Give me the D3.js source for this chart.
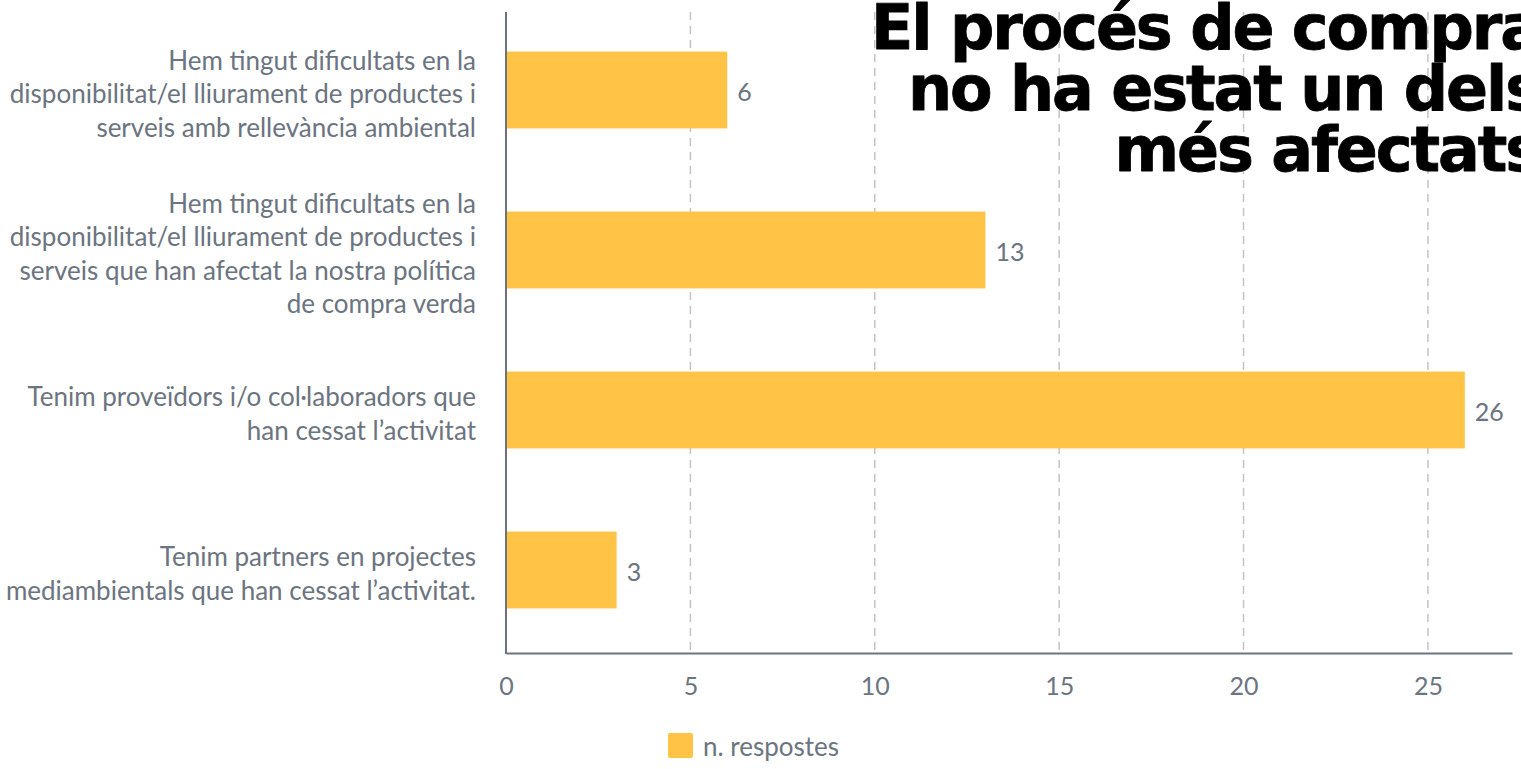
<!DOCTYPE html>
<html><head><meta charset="utf-8">
<script src="https://cdn.jsdelivr.net/npm/d3@7"></script>
<style>
body{margin:0;background:#fff;overflow:hidden}
text{font-family:Lato,"Open Sans",sans-serif}
</style></head>
<body><svg id="c" width="1521" height="769"></svg>
<script>
const categories = [
  ["Hem tingut dificultats en la","disponibilitat/el lliurament de productes i","serveis amb rellevància ambiental"],
  ["Hem tingut dificultats en la","disponibilitat/el lliurament de productes i","serveis que han afectat la nostra política","de compra verda"],
  ["Tenim proveïdors i/o col·laboradors que","han cessat l’activitat"],
  ["Tenim partners en projectes","mediambientals que han cessat l’activitat."]
];
const values = [6, 13, 26, 3];
const xTicks = [0, 5, 10, 15, 20, 25];
const seriesName = "n. respostes";
const titleLines = ["El procés de compra", "no ha estat un dels", "més afectats"];

const svg = d3.select("#c");
const gray = "#6b7480";
const x = d3.scaleLinear().domain([0, 27.28]).range([506, 1512]);
const y = d3.scaleBand().domain(d3.range(categories.length)).range([10, 650]).paddingInner(0.52).paddingOuter(0.26);

// grid
svg.append("g").selectAll("line").data(xTicks.filter(d=>d>0)).join("line")
  .attr("x1", d=>x(d)).attr("x2", d=>x(d)).attr("y1", 12).attr("y2", 653)
  .attr("stroke", "#c4c4c4").attr("stroke-width", 1.5).attr("stroke-dasharray", "8,6");

// bars
svg.append("g").selectAll("rect").data(values).join("rect")
  .attr("x", x(0)).attr("y", (d,i)=>y(i)).attr("width", d=>x(d)-x(0)).attr("height", y.bandwidth())
  .attr("fill", "#FFC445");

// value labels
svg.append("g").selectAll("text").data(values).join("text")
  .attr("x", d=>x(d)+10).attr("y", (d,i)=>y(i)+y.bandwidth()/2+2).attr("dy", "0.35em")
  .attr("font-size", 25).attr("fill", gray).text(d=>d);

// axes
const xa = svg.append("g").attr("transform", "translate(0,653)")
  .call(d3.axisBottom(x).tickValues(xTicks).tickSize(0).tickPadding(24));
xa.select(".domain").attr("stroke", gray).attr("stroke-width", 2);
xa.selectAll("text").attr("font-size", 25).attr("fill", gray).attr("font-family", "Lato");
svg.append("line").attr("x1", x(0)).attr("x2", x(0)).attr("y1", 12).attr("y2", 654)
  .attr("stroke", gray).attr("stroke-width", 2);

// category labels
const lh = 33.5;
const cg = svg.append("g");
categories.forEach((lines, i) => {
  const cy = y(i) + y.bandwidth()/2 + 4;
  const t = cg.append("text").attr("text-anchor", "end").attr("font-size", 26).attr("fill", gray);
  lines.forEach((l, j) => {
    t.append("tspan").attr("x", 476).attr("y", cy + (j - (lines.length-1)/2)*lh).attr("dy", "0.35em").text(l);
  });
});

// legend
svg.append("rect").attr("x", 668).attr("y", 733).attr("width", 25).attr("height", 25).attr("rx", 2).attr("fill", "#FFC445");
svg.append("text").attr("x", 703).attr("y", 756).attr("font-size", 26).attr("fill", gray).text(seriesName);

// title
const tt = svg.append("text").attr("text-anchor", "end").attr("font-size", 62).attr("font-weight", 700)
  .attr("fill", "#000").attr("stroke", "#000").attr("stroke-width", 0.8).attr("stroke-linejoin", "round")
  .attr("letter-spacing", -2.1)
  .style("font-family", "'DejaVu Sans',sans-serif");
titleLines.forEach((l, j) => {
  tt.append("tspan").attr("x", 1540).attr("y", 49 + j*61).text(l);
});
</script></body></html>
